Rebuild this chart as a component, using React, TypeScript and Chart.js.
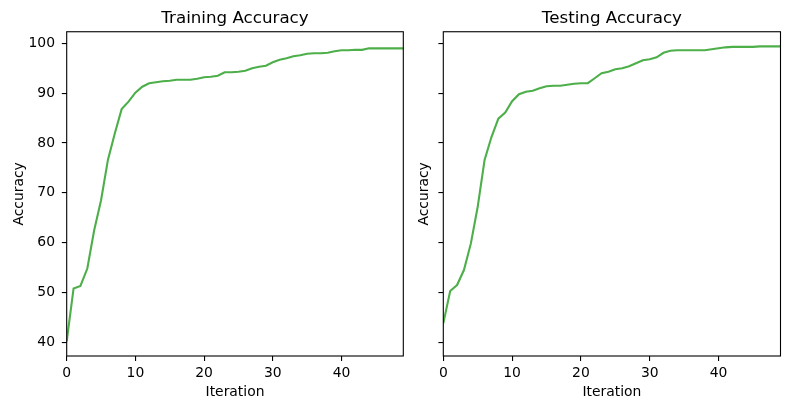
import React, { useEffect, useRef } from 'react';
import { Chart, registerables } from 'chart.js';

Chart.register(...registerables);

const iterations: number[] = Array.from({ length: 50 }, (_, i) => i);

const trainAccuracy: number[] = [
    40.2, 50.8, 51.3, 54.8, 62.5, 68.5, 76.6, 81.9, 86.8, 88.3,
    90.1, 91.3, 92.0, 92.2, 92.4, 92.5, 92.7, 92.7, 92.7, 92.9,
    93.2, 93.3, 93.5, 94.2, 94.2, 94.3, 94.5, 95.0, 95.3, 95.5,
    96.2, 96.7, 97.0, 97.4, 97.6, 97.9, 98.0, 98.0, 98.1, 98.4,
    98.6, 98.6, 98.7, 98.7, 99.0, 99.0, 99.0, 99.0, 99.0, 99.0,
];

const testAccuracy: number[] = [
    43.8, 50.3, 51.5, 54.5, 59.8, 67.2, 76.6, 81.2, 84.9, 86.1,
    88.4, 89.8, 90.3, 90.5, 91.0, 91.4, 91.5, 91.5, 91.7, 91.9,
    92.0, 92.0, 93.0, 94.0, 94.3, 94.8, 95.0, 95.4, 96.0, 96.6,
    96.8, 97.2, 98.1, 98.5, 98.6, 98.6, 98.6, 98.6, 98.6, 98.8,
    99.0, 99.2, 99.3, 99.3, 99.3, 99.3, 99.4, 99.4, 99.4, 99.4,
];

const xTicks: number[] = [0, 10, 20, 30, 40];
const yTicks: number[] = [40, 50, 60, 70, 80, 90, 100];

const FONT = 'DejaVu Sans';
const LINE_COLOR = '#4daf4a';

// draws all four spines like matplotlib
const framePlugin = {
    id: 'frame',
    afterDatasetsDraw(chart: Chart) {
        const { ctx, chartArea } = chart;
        const { left, top, right, bottom } = chartArea;
        ctx.save();
        ctx.strokeStyle = '#000';
        ctx.lineWidth = 1.1;
        ctx.strokeRect(left, top, right - left, bottom - top);
        ctx.restore();
    },
};

interface PanelProps {
    title: string;
    values: number[];
    showYLabels: boolean;
    yAxisWidth: number;
    padRight: number;
}

const Panel: React.FC<PanelProps> = ({ title, values, showYLabels, yAxisWidth, padRight }) => {
    const chartRef = useRef<HTMLCanvasElement | null>(null);

    useEffect(() => {
        const ctx = chartRef.current?.getContext('2d');
        if (!ctx) {
            return;
        }

        const tickFont = { family: FONT, size: 13.9 };

        const myChart = new Chart(ctx, {
            type: 'line',
            data: {
                datasets: [
                    {
                        data: iterations.map((x, i) => ({ x, y: values[i] })),
                        borderColor: LINE_COLOR,
                        borderWidth: 2.1,
                        pointRadius: 0,
                        tension: 0,
                        fill: false,
                    },
                ],
            },
            options: {
                animation: false,
                responsive: true,
                maintainAspectRatio: false,
                layout: {
                    padding: { left: 0, right: padRight, top: 0, bottom: 0 },
                },
                plugins: {
                    legend: { display: false },
                    tooltip: { enabled: false },
                    title: {
                        display: true,
                        text: title,
                        color: '#000',
                        fullSize: false,
                        font: { family: FONT, size: 16.7, weight: 'normal' },
                        padding: { top: 8.6, bottom: 3.1 },
                    },
                },
                scales: {
                    x: {
                        type: 'linear',
                        min: 0,
                        max: 49,
                        afterBuildTicks: (scale) => {
                            scale.ticks = xTicks.map((v) => ({ value: v }));
                        },
                        afterFit: (scale) => {
                            scale.height = 53;
                        },
                        grid: {
                            drawOnChartArea: false,
                            drawTicks: true,
                            tickLength: 4.9,
                            color: '#000',
                            lineWidth: 1.1,
                        },
                        border: { display: false },
                        ticks: {
                            color: '#000',
                            font: tickFont,
                            padding: 3.8,
                            autoSkip: false,
                            maxRotation: 0,
                        },
                        title: {
                            display: true,
                            text: 'Iteration',
                            color: '#000',
                            font: tickFont,
                            padding: { top: 0, bottom: 8.1 },
                        },
                    },
                    y: {
                        type: 'linear',
                        min: 37.25,
                        max: 102.33,
                        afterBuildTicks: (scale) => {
                            scale.ticks = yTicks.map((v) => ({ value: v }));
                        },
                        afterFit: (scale) => {
                            scale.width = yAxisWidth;
                        },
                        grid: {
                            drawOnChartArea: false,
                            drawTicks: true,
                            tickLength: 4.9,
                            color: '#000',
                            lineWidth: 1.1,
                        },
                        border: { display: false },
                        ticks: {
                            display: showYLabels,
                            color: '#000',
                            font: tickFont,
                            padding: 6.8,
                            autoSkip: false,
                        },
                        title: {
                            display: true,
                            text: 'Accuracy',
                            color: '#000',
                            font: tickFont,
                            padding: { top: 11.4, bottom: 0 },
                        },
                    },
                },
            },
            plugins: [framePlugin],
        });

        return () => {
            myChart.destroy();
        };
    }, [title, values, showYLabels, yAxisWidth, padRight]);

    return <canvas ref={chartRef} />;
};

const App: React.FC = () => {
    return (
        <div style={{ position: 'fixed', left: 0, top: 0, width: 790, height: 409, background: '#fff' }}>
            <div style={{ position: 'absolute', left: 0, top: 0, width: 405, height: 409 }}>
                <Panel title="Training Accuracy" values={trainAccuracy} showYLabels={true} yAxisWidth={66.7} padRight={1.7} />
            </div>
            <div style={{ position: 'absolute', left: 405, top: 0, width: 385, height: 409 }}>
                <Panel title="Testing Accuracy" values={testAccuracy} showYLabels={false} yAxisWidth={38.3} padRight={9.5} />
            </div>
        </div>
    );
};

export default App;
